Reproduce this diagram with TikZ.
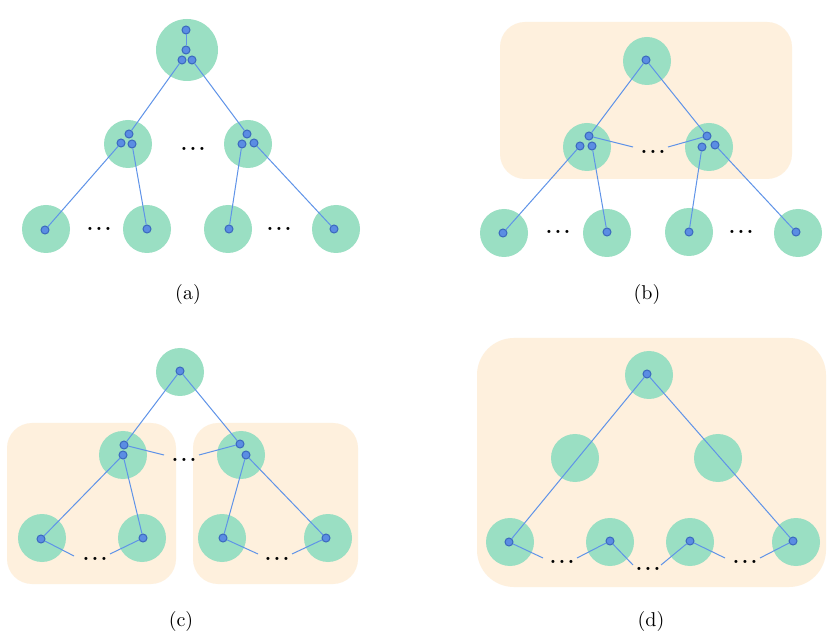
\documentclass[tikz,border=0pt]{standalone}
\usepackage{tikz}
\definecolor{cgreen}{HTML}{9ADFC3}
\definecolor{cback}{HTML}{FEF0DD}
\definecolor{cdot}{HTML}{5B8DE3}
\definecolor{cdotline}{HTML}{3A68BE}
\definecolor{cedge}{HTML}{5F93E8}
\newcommand{\tdots}{.\kern1.3pt.\kern1.3pt.}
\tikzset{every path/.style={cedge,line width=0.5pt}, cl/.style={circle, fill=cgreen, draw=none, minimum size=24pt, inner sep=0pt},
         pt/.style={circle, fill=cdot, draw=cdotline, line width=0.5pt, minimum size=4pt, inner sep=0pt},
         dd/.style={black, inner sep=0pt, font=\bfseries}, lbl/.style={black, inner sep=0pt}}

\begin{document}
\begin{tikzpicture}[x=0.5pt,y=-0.5pt]
   \useasboundingbox[fill=white] (0,0) rectangle (836,636);
   % (a)
   \begin{scope}
    \node[cl, minimum size=31pt] (t) at (187,50) {};
    \node[cl] (m1) at (128,144) {};
    \node[cl] (m2) at (248,144) {};
    \node[cl] (l1) at ( 46,229) {};
    \node[cl] (l2) at (147,229) {};
    \node[cl] (l3) at (228,229) {};
    \node[cl] (l4) at (336,229) {};
    \node[pt] (t0) at (186,30) {};
    \node[pt] (t1) at (186,50) {};
    \node[pt] (t2) at (182,60) {};
    \node[pt] (t3) at (192,60) {};
    \node[pt] (m1a) at (129,134) {};
    \node[pt] (m1b) at (121,143) {};
    \node[pt] (m1c) at (132,144) {};
    \node[pt] (m2a) at (247,134) {};
    \node[pt] (m2b) at (242,144) {};
    \node[pt] (m2c) at (254,143) {};
    \node[pt] (p1) at ( 45,230) {};
    \node[pt] (p2) at (147,229) {};
    \node[pt] (p3) at (229,229) {};
    \node[pt] (p4) at (334,229) {};
    \draw (t0) -- (t1);
    \draw (t2) -- (m1a);
    \draw (t3) -- (m2a);
    \draw (m1b) -- (p1);
    \draw (m1c) -- (p2);
    \draw (m2b) -- (p3);
    \draw (m2c) -- (p4);
    \node[dd] (d0) at (193,149) {\tdots};
    \node[dd] (d1) at ( 99,229) {\tdots};
    \node[dd] (d2) at (279,229) {\tdots};
    \node[lbl] (ca) at (188,295) {(a)};
   \end{scope}
   % (b)
   \begin{scope}[shift={(470,0)}]
    \fill[cback, rounded corners=12.5pt] (30,22) rectangle (322,179);
    \node[cl] (t) at (177,61) {};
    \node[cl] (m1) at (117,147) {};
    \node[cl] (m2) at (239,147) {};
    \node[cl] (l1) at ( 34,233) {};
    \node[cl] (l2) at (137,233) {};
    \node[cl] (l3) at (219,232) {};
    \node[cl] (l4) at (328,233) {};
    \node[pt] (t0) at (176,60) {};
    \node[pt] (m1a) at (119,136) {};
    \node[pt] (m1b) at (110,146) {};
    \node[pt] (m1c) at (122,146) {};
    \node[pt] (m2a) at (237,136) {};
    \node[pt] (m2b) at (232,147) {};
    \node[pt] (m2c) at (245,145) {};
    \node[pt] (p1) at ( 33,233) {};
    \node[pt] (p2) at (137,232) {};
    \node[pt] (p3) at (219,232) {};
    \node[pt] (p4) at (326,232) {};
    \coordinate (e1) at (163,147);
    \coordinate (e2) at (198,147);
    \draw (t0) -- (m1a);
    \draw (t0) -- (m2a);
    \draw (m1a) -- (e1);
    \draw (m2a) -- (e2);
    \draw (m1b) -- (p1);
    \draw (m1c) -- (p2);
    \draw (m2b) -- (p3);
    \draw (m2c) -- (p4);
    \node[dd] (d0) at (183,152) {\tdots};
    \node[dd] (d1) at ( 88,232) {\tdots};
    \node[dd] (d2) at (271,232) {\tdots};
    \node[lbl] (cb) at (177,295) {(b)};
   \end{scope}
   % (c)
   \begin{scope}[shift={(0,330)}]
    \fill[cback, rounded corners=12.5pt] (7,93) rectangle (176,254);
    \fill[cback, rounded corners=12.5pt] (193,93) rectangle (358,254);
    \node[cl] (t) at (180,42) {};
    \node[cl] (m1) at (123,125) {};
    \node[cl] (m2) at (241,125) {};
    \node[cl] (l1) at ( 42,208) {};
    \node[cl] (l2) at (142,208) {};
    \node[cl] (l3) at (222,208) {};
    \node[cl] (l4) at (328,208) {};
    \node[pt] (t0) at (180,41) {};
    \node[pt] (m1a) at (124,115) {};
    \node[pt] (m1b) at (123,125) {};
    \node[pt] (m2a) at (240,114) {};
    \node[pt] (m2b) at (246,125) {};
    \node[pt] (p1) at ( 41,209) {};
    \node[pt] (p2) at (143,208) {};
    \node[pt] (p3) at (223,208) {};
    \node[pt] (p4) at (326,208) {};
    \coordinate (e1) at (164,125);
    \coordinate (e2) at (199,125);
    \coordinate (f1) at ( 74,226);
    \coordinate (f2) at (110,224);
    \coordinate (f3) at (258,224);
    \coordinate (f4) at (292,224);
    \draw (t0) -- (m1a);
    \draw (t0) -- (m2a);
    \draw (m1a) -- (e1);
    \draw (m2a) -- (e2);
    \draw (m1b) -- (p1);
    \draw (m1b) -- (p2);
    \draw (m2b) -- (p3);
    \draw (m2b) -- (p4);
    \draw (p1) -- (f1);
    \draw (p2) -- (f2);
    \draw (p3) -- (f3);
    \draw (p4) -- (f4);
    \node[dd] (d0) at (184,130) {\tdots};
    \node[dd] (d1) at ( 95,229) {\tdots};
    \node[dd] (d2) at (277,229) {\tdots};
    \node[lbl] (cc) at (181,291) {(c)};
   \end{scope}
   % (d)
   \begin{scope}[shift={(470,330)}]
    \fill[cback, rounded corners=18.5pt] (7,8) rectangle (356,257);
    \node[cl] (t) at (179,45) {};
    \node[cl] (m1) at (105,128) {};
    \node[cl] (m2) at (248,128) {};
    \node[cl] (l1) at ( 40,212) {};
    \node[cl] (l2) at (140,212) {};
    \node[cl] (l3) at (220,212) {};
    \node[cl] (l4) at (326,212) {};
    \node[pt] (t0) at (177,44) {};
    \node[pt] (p1) at ( 39,212) {};
    \node[pt] (p2) at (140,211) {};
    \node[pt] (p3) at (220,211) {};
    \node[pt] (p4) at (323,211) {};
    \coordinate (f1) at ( 73,228);
    \coordinate (f2) at (107,228);
    \coordinate (f3) at (163,235);
    \coordinate (f4) at (191,235);
    \coordinate (f5) at (255,228);
    \coordinate (f6) at (290,228);
    \draw (t0) -- (p1);
    \draw (t0) -- (p4);
    \draw (p1) -- (f1);
    \draw (p2) -- (f2);
    \draw (p2) -- (f3);
    \draw (p3) -- (f4);
    \draw (p3) -- (f5);
    \draw (p4) -- (f6);
    \node[dd] (d1) at ( 92,232) {\tdots};
    \node[dd] (d2) at (178,239) {\tdots};
    \node[dd] (d3) at (275,232) {\tdots};
    \node[lbl] (cd) at (181,291) {(d)};
   \end{scope}
  \end{tikzpicture}
\end{document}
